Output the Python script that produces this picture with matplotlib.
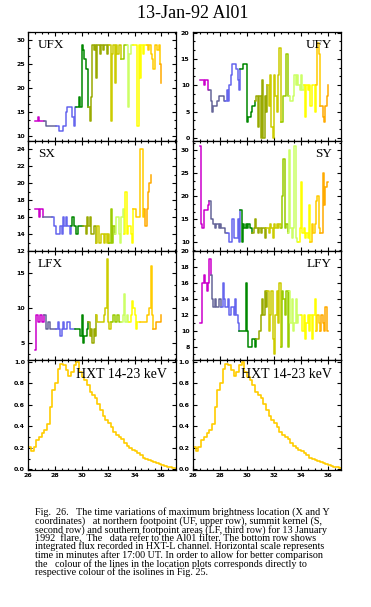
import numpy as np
import matplotlib
matplotlib.use("Agg")
import matplotlib.pyplot as plt
from matplotlib.ticker import MultipleLocator, AutoMinorLocator, FormatStrFormatter

# ---------------- data ----------------
# time grid (minutes after 17:00 UT), 0.1 min sampling from 26.5
T = np.round(26.5 + 0.1 * np.arange(96), 2)

colors = ['#CC00CC', '#666699', '#6666EE', '#008800', '#99AA00', '#CCCC00',
          '#99CC00', '#CCFF66', '#FFFF00', '#FFCC00', '#FFAA00']

ufx = [13, 13, 14, 13, 13, 13, 13, 13, 12, 12, 12, 12, 12, 12, 12, 12,
       12, 12, 11, 11, 11, 12, 12, 15, 16, 16, 16, 16, 14, 12, 16, 16,
       16, 18, 16, 29, 28, 26, 24, 24, 16, 13, 18, 29, 28, 29, 22, 29,
       29, 27, 29, 28, 29, 29, 27, 29, 29, 13, 27, 29, 21, 29, 27, 29,
       29, 26, 26, 29, 29, 29, 16, 27, 29, 29, 29, 29, 29, 12, 29, 22,
       29, 27, 29, 29, 29, 28, 29, 27, 26, 24, 29, 29, 28, 29, 25, 21]
ufx_breaks = [0, 7, 16, 31, 40, 56, 65, 69, 74, 84, 94, 95]

ufy = [11, 11, 11, 10, 11, 11, 9, 9, 7, 5, 6, 6, 6, 7, 8, 8,
       8, 8, 7, 7, 9, 7, 10, 12, 14, 14, 14, 13, 11, 9, 13, 13,
       14, 14, 14, 3, 4, 4, 5, 6, 6, 7, 8, 2, 8, 0, 11, 0,
       8, 5, 10, 6, 12, 2, 0, 12, 8, 5, 12, 17, 3, 3, 8, 8,
       16, 8, 8, 7, 7, 8, 12, 10, 12, 10, 9, 12, 9, 10, 4, 10,
       9, 10, 6, 10, 10, 5, 10, 18, 16, 6, 6, 4, 3, 6, 8, 10]
ufy_breaks = [0, 7, 19, 30, 41, 50, 60, 66, 77, 86, 89, 95]

sx = [17, 17, 17, 16, 17, 17, 16, 16, 16, 16, 16, 16, 16, 16, 15, 15,
      14, 14, 14, 15, 14, 16, 15, 16, 15, 15, 14, 15, 16, 15, 15, 14,
      15, 15, 15, 15, 15, 15, 14, 16, 15, 16, 14, 14, 15, 15, 13, 15,
      13, 13, 14, 14, 13, 14, 13, 14, 13, 17, 13, 15, 14, 16, 16, 14,
      13, 16, 17, 14, 19, 14, 15, 15, 14, 13, 17, 17, 16, 16, 16, 24,
      24, 16, 17, 15, 17, 19, 20, 21]
sx_breaks = [0, 6, 13, 27, 36, 46, 56, 60, 67, 74, 82, 87]

sy = [31, 14, 13, 17, 17, 17, 18, 19, 15, 15, 14, 13, 14, 14, 13, 14,
      13, 13, 13, 12, 12, 12, 10, 10, 15, 11, 11, 11, 15, 10, 17, 10,
      14, 13, 14, 13, 14, 13, 13, 12, 13, 15, 13, 12, 13, 12, 13, 13,
      11, 13, 13, 12, 14, 13, 11, 14, 13, 14, 13, 14, 13, 20, 28, 13,
      14, 12, 30, 13, 11, 13, 31, 11, 10, 10, 13, 23, 12, 13, 11, 12,
      11, 18, 10, 14, 12, 14, 19, 20, 13, 12, 12, 25, 18, 22, 23, 23]
sy_breaks = [0, 7, 20, 30, 39, 49, 60, 65, 73, 82, 89, 95]

lfx = [4, 9, 8, 8, 9, 8, 8, 9, 7, 7, 8, 7, 7, 7, 7, 7,
       7, 8, 7, 6, 7, 8, 7, 7, 8, 8, 7, 7, 7, 7, 7, 7,
       7, 7, 6, 9, 5, 6, 6, 7, 8, 6, 7, 5, 7, 6, 9, 8,
       8, 8, 8, 8, 9, 10, 17, 8, 7, 8, 8, 9, 8, 8, 9, 8,
       8, 8, 9, 12, 8, 9, 8, 8, 9, 11, 10, 9, 7, 8, 8, 8,
       8, 8, 8, 8, 9, 9, 10, 16, 9, 7, 7, 8, 8, 8, 8, 9]
lfx_breaks = [0, 7, 16, 30, 40, 46, 57, 65, 71, 79, 89, 95]

lfy = [11, 11, 16, 17, 16, 15, 16, 19, 17, 14, 13, 14, 13, 13, 14, 14,
       13, 16, 14, 13, 13, 14, 12, 13, 13, 12, 14, 12, 11, 10, 10, 10,
       10, 10, 16, 10, 8, 8, 8, 9, 9, 8, 9, 9, 10, 12, 14, 12,
       15, 13, 15, 10, 12, 15, 9, 7, 12, 15, 11, 16, 8, 15, 14, 12,
       15, 8, 15, 11, 14, 10, 11, 14, 11, 12, 12, 12, 10, 12, 9, 11,
       12, 10, 12, 9, 12, 14, 10, 12, 11, 10, 12, 11, 10, 13, 10, 10]
lfy_breaks = [0, 8, 16, 29, 42, 50, 60, 66, 75, 86, 89, 95]

# HXT 14-23 keV normalised flux, 0.2 min sampling from 26.0
hxt_t = np.round(26.0 + 0.2 * np.arange(56), 2)
hxt = [0.21, 0.17, 0.21, 0.27, 0.30, 0.34, 0.37, 0.42, 0.58, 0.74, 0.80, 0.93,
       0.98, 0.97, 0.92, 0.87, 0.90, 0.97, 1.00, 0.90, 0.86, 0.83, 0.78, 0.72,
       0.69, 0.66, 0.61, 0.55, 0.50, 0.46, 0.43, 0.39, 0.35, 0.32, 0.30, 0.28,
       0.25, 0.22, 0.20, 0.18, 0.17, 0.15, 0.13, 0.11, 0.10, 0.09, 0.08, 0.07,
       0.06, 0.05, 0.04, 0.035, 0.025, 0.02, 0.015, 0.015]

caption = [
    "Fig.  26.   The time variations of maximum brightness location (X and Y",
    "coordinates)   at northern footpoint (UF, upper row), summit kernel (S,",
    "second row) and southern footpoint areas (LF, third row) for 13 January",
    "1992  flare.  The   data refer to the Al01 filter. The bottom row shows",
    "integrated flux recorded in HXT-L channel. Horizontal scale represents",
    "time in minutes after 17:00 UT. In order to allow for better comparison",
    "the   colour of the lines in the location plots corresponds directly to",
    "respective colour of the isolines in Fig. 25.",
]

# ---------------- figure ----------------
W, H = 371, 607
fig = plt.figure(figsize=(W / 100, H / 100), dpi=100)
serif = ['Liberation Serif', 'DejaVu Serif']


def ax_at(x0, y0, x1, y1):
    return fig.add_axes([x0 / W, 1 - y1 / H, (x1 - x0) / W, (y1 - y0) / H])


cols = [(28.3, 176.0, 37.1), (193.0, 341.0, 36.96)]
rows = [(32, 141), (141, 251), (251, 360), (360, 470)]

panels = [
    [(ufx, ufx_breaks, 'UFX', (8.9, 31.7), 5), (sx, sx_breaks, 'SX', (12.0, 25.0), 2),
     (lfx, lfx_breaks, 'LFX', (2.5, 18.2), 5)],
    [(ufy, ufy_breaks, 'UFY', (-0.6, 20.1), 5), (sy, sy_breaks, 'SY', (8.1, 32.0), 5),
     (lfy, lfy_breaks, 'LFY', (6.3, 20.05), 2)],
]


def style(ax, xlim, ylim, major, xlabels):
    ax.set_xlim(26, xlim)
    ax.set_ylim(*ylim)
    ax.xaxis.set_major_locator(MultipleLocator(2))
    ax.xaxis.set_minor_locator(MultipleLocator(0.5))
    ax.yaxis.set_major_locator(MultipleLocator(major))
    ax.yaxis.set_minor_locator(AutoMinorLocator(3 if major == 5 else 2))
    ax.tick_params(which='both', direction='in', top=True, right=True,
                   width=0.8, labelsize=4.5, pad=2.5)
    ax.tick_params(which='major', length=3)
    ax.tick_params(which='minor', length=1.5)
    if not xlabels:
        ax.tick_params(labelbottom=False)
    for s in ax.spines.values():
        s.set_linewidth(0.9)


for c, (x0, x1, xl) in enumerate(cols):
    for r in range(3):
        vals, brks, name, ylim, major = panels[c][r]
        ax = ax_at(x0, rows[r][0], x1, rows[r][1])
        n = len(vals)
        v = np.array(vals, dtype=float)
        t = T[:n]
        for k in range(len(colors)):
            a, b = brks[k], brks[k + 1]
            ax.plot(t[a:b + 1], v[a:b + 1], drawstyle='steps-post',
                    color=colors[k], lw=1.1)
        style(ax, xl, ylim, major, False)
        for lab in ax.get_yticklabels():
            lab.set_fontweight('bold')
        if c == 0:
            ax.text(0.066, 0.94, name, transform=ax.transAxes, ha='left',
                    va='top', fontsize=9.5, family=serif)
        else:
            ax.text(0.937, 0.94, name, transform=ax.transAxes, ha='right',
                    va='top', fontsize=9.5, family=serif)
    ax = ax_at(x0, rows[3][0], x1, rows[3][1])
    ax.plot(hxt_t, hxt, drawstyle='steps-post', color='#FFCC00', lw=1.2)
    style(ax, xl, (-0.005, 1.015), 0.2, True)
    ax.yaxis.set_minor_locator(AutoMinorLocator(2))
    ax.yaxis.set_major_formatter(FormatStrFormatter('%.1f'))
    ax.xaxis.set_major_formatter(FormatStrFormatter('%d'))
    for lab in ax.get_yticklabels() + ax.get_xticklabels():
        lab.set_fontweight('bold')
    ax.text(0.939, 0.93, 'HXT 14-23 keV', transform=ax.transAxes, ha='right',
            va='top', fontsize=10, family=serif)

fig.text(193 / W, 1 - 14 / H, '13-Jan-92 Al01', ha='center', va='center',
         fontsize=13, family=serif)

fig.text(35 / W, 1 - 507 / H, "\n".join(caption), ha='left', va='top',
         fontsize=7.3, family=serif, linespacing=0.86)

fig.savefig('out.png', dpi=100)
